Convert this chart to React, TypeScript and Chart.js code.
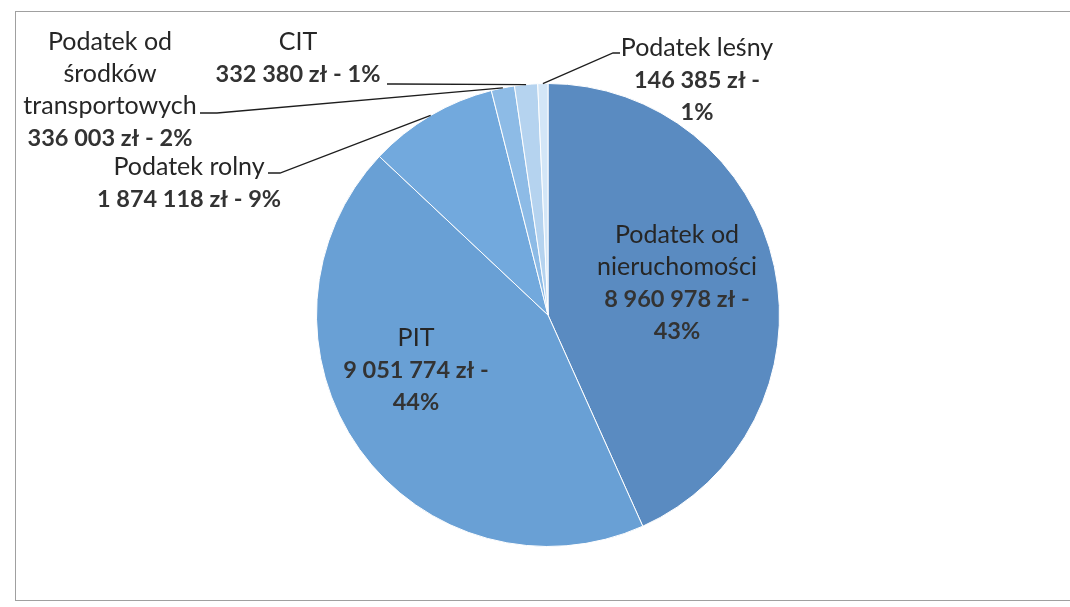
import { useEffect, useRef } from "react";
import { Chart, registerables } from "chart.js";

Chart.register(...registerables);

const categories = [
  "Podatek od nieruchomości",
  "PIT",
  "Podatek rolny",
  "Podatek od środków transportowych",
  "CIT",
  "Podatek leśny",
];
const values = [8960978, 9051774, 1874118, 336003, 332380, 146385];
const percentLabels = ["43%", "44%", "9%", "2%", "1%", "1%"];
const nameLines = [
  ["Podatek od", "nieruchomości"],
  ["PIT"],
  ["Podatek rolny"],
  ["Podatek od", "środków", "transportowych"],
  ["CIT"],
  ["Podatek leśny"],
];
const splitValue = [true, true, false, false, false, true];

const colors = ["#5a8bc1", "#69a0d5", "#72a9dd", "#8dbbe6", "#b5d3ef", "#d3e6f7"];

// label placement relative to pie centre (px): centre x of text block, middle of first line
const labelLayout: { dx: number; dy: number; leader?: number[][] }[] = [
  { dx: 129, dy: -80 },
  { dx: -132, dy: 23 },
  { dx: -359, dy: -148, leader: [[-268, -142], [-280, -142]] },
  { dx: -438, dy: -273, leader: [[-331, -202], [-348, -202]] },
  { dx: -250, dy: -273, leader: [[-153, -231], [-161, -231]] },
  { dx: 149, dy: -267, leader: [[65, -262], [72, -262]] },
];

const FONT = "Lato, 'Open Sans', sans-serif";
const FS_REG = 25;
const FS_BOLD = 23.5;
const LH = 32;

const fmt = (v: number) => String(v).replace(/\B(?=(\d{3})+(?!\d))/g, " ");

function valueLines(i: number): string[] {
  const v = fmt(values[i]) + " zł -";
  return splitValue[i] ? [v, percentLabels[i]] : [v + " " + percentLabels[i]];
}

const labelPlugin = {
  id: "customLabels",
  beforeDraw(chart: any) {
    const ctx = chart.ctx;
    ctx.save();
    ctx.fillStyle = "#ffffff";
    ctx.fillRect(0, 0, chart.width, chart.height);
    ctx.strokeStyle = "#a0a0a0";
    ctx.lineWidth = 1;
    ctx.strokeRect(15.5, 11.5, 1100, 589);
    ctx.restore();
  },
  afterDatasetsDraw(chart: any) {
    const ctx = chart.ctx;
    const meta = chart.getDatasetMeta(0);
    ctx.save();
    meta.data.forEach((arc: any, i: number) => {
      const { x, y, startAngle, endAngle, outerRadius } = arc.getProps(
        ["x", "y", "startAngle", "endAngle", "outerRadius"],
        true
      );
      const L = labelLayout[i];
      if (L.leader) {
        const mid = (startAngle + endAngle) / 2;
        ctx.beginPath();
        ctx.moveTo(x + Math.cos(mid) * outerRadius, y + Math.sin(mid) * outerRadius);
        L.leader.forEach(([dx, dy]) => ctx.lineTo(x + dx, y + dy));
        ctx.strokeStyle = "#1e1e1e";
        ctx.lineWidth = 1.3;
        ctx.stroke();
      }
      const lines = [
        ...nameLines[i].map((t) => ({ t, b: false })),
        ...valueLines(i).map((t) => ({ t, b: true })),
      ];
      ctx.textAlign = "center";
      ctx.textBaseline = "middle";
      lines.forEach((ln, k) => {
        ctx.fillStyle = ln.b ? "#333333" : "#262626";
        ctx.font = ln.b ? `bold ${FS_BOLD}px ${FONT}` : `${FS_REG}px ${FONT}`;
        ctx.fillText(ln.t, x + L.dx, y + L.dy + k * LH);
      });
    });
    ctx.restore();
  },
};

export default function App() {
  const ref = useRef<HTMLCanvasElement>(null);
  useEffect(() => {
    document.body.style.margin = "0";
    if (!ref.current) return;
    const chart = new Chart(ref.current, {
      type: "pie",
      data: {
        labels: categories,
        datasets: [
          {
            data: values,
            backgroundColor: colors,
            borderColor: "#ffffff",
            borderWidth: 1,
          },
        ],
      },
      options: {
        responsive: false,
        animation: false,
        layout: { padding: { left: 316, right: 290, top: 83, bottom: 60 } },
        plugins: {
          legend: { display: false },
          tooltip: { enabled: false },
        },
      },
      plugins: [labelPlugin],
    });
    return () => chart.destroy();
  }, []);
  return (
    <div style={{ width: 1070, height: 607 }}>
      <canvas ref={ref} width={1070} height={607} />
    </div>
  );
}
